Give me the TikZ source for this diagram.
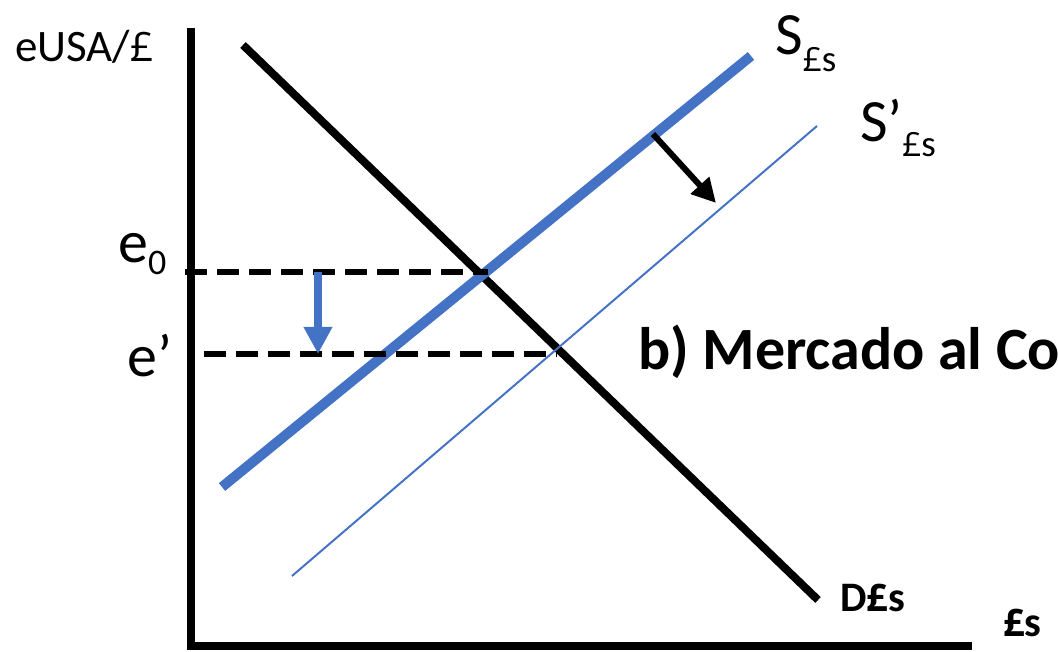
\documentclass[tikz,border=0pt]{standalone}
\usepackage{fontspec}
\setmainfont{Carlito}[Numbers=Lining]
\newfontfamily\poundfont{Open Sans}[Scale=0.9]
\usetikzlibrary{arrows.meta}
\definecolor{sblue}{HTML}{4472C4}
\newcommand{\fsz}[1]{\fontsize{#1}{#1}\selectfont}
\newcommand{\gbp}{{\poundfont £}}

\begin{document}
\begin{tikzpicture}[x=1pt, y=1pt,
		every node/.style={inner sep=0pt, anchor=base west},
		guide/.style={line width=6pt, dash pattern=on 22pt off 10pt}]
		\useasboundingbox (0,0) rectangle (1058,652);
		\clip (0,0) rectangle (1058,652);
		% axes
		\coordinate (top) at (191,624);
		\coordinate (origin) at (191,6);
		\coordinate (right) at (972,6);
		\draw[line width=8pt] (top) -- (origin) -- (right);
		\node (yaxis) at (15,590) {\fsz{45}eUSA/\gbp};
		\node (xaxis) at (1003,15) {\fsz{42}\bfseries \gbp s};
		% demand and supply
		\coordinate (D1) at (243,607);
		\coordinate (D2) at (818,52);
		\coordinate (S1) at (222,165);
		\coordinate (S2) at (751,596);
		\coordinate (Sp1) at (292,76);
		\coordinate (Sp2) at (817,526);
		\draw[line width=8pt] (D1) -- (D2);
		\draw[sblue, line width=10pt] (S1) -- (S2);
		\draw[sblue, line width=2pt] (Sp1) -- (Sp2);
		\node (Dlab) at (840,40) {\fsz{42}\bfseries D\gbp s};
		\node (Slab) at (775,597) {\fsz{60}S\raisebox{-17pt}{\fsz{37}\gbp s}};
		\node (Splab) at (860,510) {\fsz{60}S’\raisebox{-15pt}{\fsz{37}\gbp s}};
		% shift of supply
		\coordinate (sh1) at (653,518);
		\coordinate (sh2) at (716,449);
		\draw[line width=6pt, -{Triangle[length=24pt, width=24pt]}] (sh1) -- (sh2);
		% exchange rates
		\coordinate (e0a) at (185,380);
		\coordinate (e0b) at (488,380);
		\coordinate (e1a) at (204,298);
		\coordinate (e1b) at (557,298);
		\draw[guide] (e0a) -- (e0b);
		\draw[guide] (e1a) -- (e1b);
		\node (e0) at (118,389) {\fsz{60}e\raisebox{-12pt}{\fsz{36}0}};
		\node (e1) at (127,275) {\fsz{60}e’};
		\coordinate (dr1) at (318,380);
		\coordinate (dr2) at (318,298);
		\draw[sblue, line width=8pt, -{Triangle[length=27pt, width=27pt]}] (dr1) -- (dr2);
		\node (title) at (638,282) {\fsz{60}\bfseries b) Mercado al Contado};
	\end{tikzpicture}
\end{document}
